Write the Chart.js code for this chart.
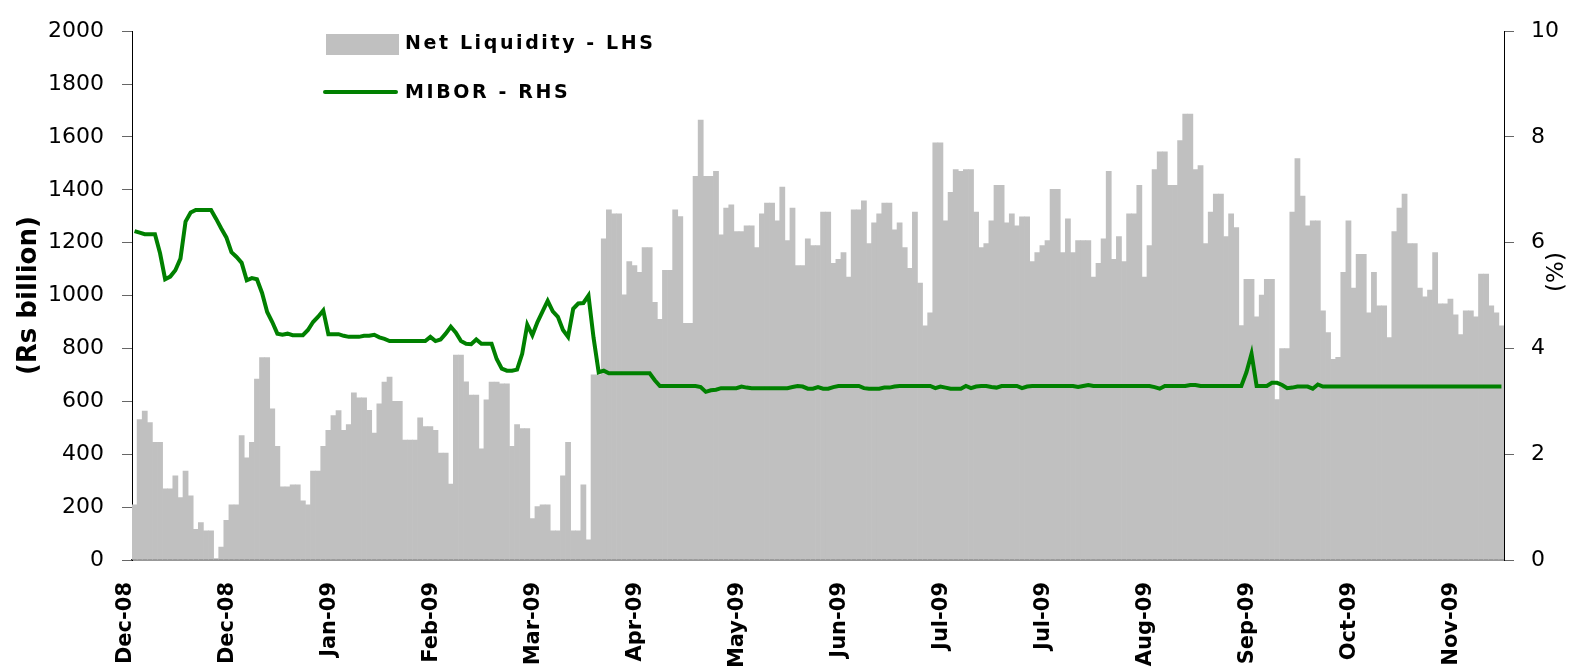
<!DOCTYPE html>
<html>
<head>
<meta charset="utf-8">
<script src="https://cdn.jsdelivr.net/npm/chart.js@4/dist/chart.umd.min.js"></script>
<style>
  body { margin: 0; background: #fff; }
  #wrap { position: relative; width: 1579px; height: 668px; }
  .legend { position: absolute; font-family: "DejaVu Sans", sans-serif; font-size: 19px; font-weight: bold; letter-spacing: 2.6px; color: #000; line-height: 20px; white-space: nowrap; }
  .swatch-bar { position: absolute; left: 326px; top: 34px; width: 73px; height: 21px; background: #c0c0c0; }
  .swatch-line { position: absolute; left: 323px; top: 90px; width: 75px; height: 4px; background: #008000; border-radius: 2px; }
</style>
</head>
<body>
<div id="wrap">
  <canvas id="chart" width="1579" height="668"></canvas>
  <div class="swatch-bar"></div>
  <div class="legend" style="left:405px; top:32px;">Net Liquidity - LHS</div>
  <div class="swatch-line"></div>
  <div class="legend" style="left:405px; top:81px;">MIBOR - RHS</div>
</div>
<script>
// x axis labels, one every 20 business days
const tickLabels = ['Dec-08', 'Dec-08', 'Jan-09', 'Feb-09', 'Mar-09', 'Apr-09', 'May-09',
  'Jun-09', 'Jul-09', 'Jul-09', 'Aug-09', 'Sep-09', 'Oct-09', 'Nov-09'];
const labelEvery = 20;

// Net liquidity, Rs billion (LHS)
const netLiquidity = [
  209, 531, 563, 520, 445, 445, 269, 269, 318, 236,
  336, 243, 116, 142, 110, 110, 5, 49, 150, 209,
  209, 471, 386, 445, 684, 766, 766, 572, 430, 277,
  277, 284, 284, 224, 209, 336, 336, 430, 490, 546,
  565, 490, 512, 632, 613, 613, 566, 480, 591, 673,
  692, 600, 600, 454, 454, 454, 538, 505, 505, 490,
  404, 404, 287, 775, 775, 674, 624, 624, 420, 606,
  673, 673, 666, 666, 430, 512, 497, 497, 157, 202,
  209, 209, 110, 110, 318, 445, 110, 110, 284, 76,
  700, 700, 1215, 1324, 1309, 1309, 1003, 1129, 1114, 1088,
  1182, 1182, 975, 910, 1096, 1096, 1324, 1299, 895, 895,
  1451, 1664, 1451, 1451, 1470, 1230, 1331, 1343, 1242, 1242,
  1264, 1264, 1182, 1309, 1350, 1350, 1283, 1410, 1208, 1331,
  1114, 1114, 1215, 1189, 1189, 1316, 1316, 1122, 1137, 1163,
  1070, 1324, 1324, 1358, 1197, 1275, 1309, 1350, 1350, 1249,
  1275, 1182, 1103, 1316, 1047, 886, 935, 1578, 1578, 1283,
  1391, 1477, 1470, 1477, 1477, 1316, 1182, 1197, 1283, 1417,
  1417, 1275, 1309, 1264, 1298, 1298, 1129, 1163, 1189, 1208,
  1402, 1402, 1163, 1290, 1163, 1208, 1208, 1208, 1070, 1122,
  1215, 1470, 1137, 1223, 1129, 1309, 1309, 1417, 1070, 1189,
  1477, 1544, 1544, 1417, 1417, 1586, 1687, 1687, 1477, 1492,
  1197, 1316, 1384, 1384, 1223, 1309, 1257, 887, 1062, 1062,
  920, 1002, 1062, 1062, 607, 800, 800, 1316, 1518, 1376,
  1264, 1283, 1283, 942, 860, 759, 767, 1088, 1283, 1028,
  1156, 1156, 935, 1088, 961, 961, 841, 1242, 1331, 1384,
  1197, 1197, 1028, 995, 1021, 1163, 969, 969, 987, 927,
  853, 942, 942, 920, 1081, 1081, 961, 935, 886
];

// MIBOR, % (RHS)
const mibor = [
  6.22, 6.19, 6.16, 6.16, 6.16, 5.8, 5.31, 5.36, 5.48, 5.7,
  6.4, 6.57, 6.62, 6.62, 6.62, 6.62, 6.45, 6.27, 6.1, 5.82,
  5.73, 5.62, 5.29, 5.33, 5.31, 5.05, 4.69, 4.5, 4.28, 4.26,
  4.28, 4.25, 4.25, 4.25, 4.35, 4.5, 4.6, 4.72, 4.27, 4.27,
  4.27, 4.24, 4.22, 4.22, 4.22, 4.24, 4.24, 4.26, 4.21, 4.18,
  4.14, 4.14, 4.14, 4.14, 4.14, 4.14, 4.14, 4.14, 4.22, 4.14,
  4.17, 4.28, 4.41, 4.3, 4.14, 4.09, 4.08, 4.17, 4.09, 4.09,
  4.09, 3.8, 3.62, 3.58, 3.58, 3.6, 3.9, 4.45, 4.25, 4.5,
  4.7, 4.9, 4.7, 4.6, 4.35, 4.22, 4.75, 4.85, 4.86, 5.0,
  4.2, 3.55, 3.58, 3.53, 3.53, 3.53, 3.53, 3.53, 3.53, 3.53,
  3.53, 3.53, 3.4, 3.29, 3.29, 3.29, 3.29, 3.29, 3.29, 3.29,
  3.29, 3.27, 3.18, 3.21, 3.22, 3.25, 3.25, 3.25, 3.25, 3.28,
  3.26, 3.25, 3.25, 3.25, 3.25, 3.25, 3.25, 3.25, 3.25, 3.27,
  3.29, 3.28, 3.24, 3.24, 3.27, 3.24, 3.24, 3.27, 3.29, 3.29,
  3.29, 3.29, 3.29, 3.25, 3.24, 3.24, 3.24, 3.26, 3.26, 3.28,
  3.29, 3.29, 3.29, 3.29, 3.29, 3.29, 3.29, 3.25, 3.28, 3.26,
  3.24, 3.24, 3.24, 3.29, 3.25, 3.28, 3.29, 3.29, 3.27, 3.26,
  3.29, 3.29, 3.29, 3.29, 3.25, 3.28, 3.29, 3.29, 3.29, 3.29,
  3.29, 3.29, 3.29, 3.29, 3.29, 3.27, 3.29, 3.31, 3.29, 3.29,
  3.29, 3.29, 3.29, 3.29, 3.29, 3.29, 3.29, 3.29, 3.29, 3.29,
  3.27, 3.24, 3.29, 3.29, 3.29, 3.29, 3.29, 3.31, 3.31, 3.29,
  3.29, 3.29, 3.29, 3.29, 3.29, 3.29, 3.29, 3.29, 3.55, 3.9,
  3.29, 3.29, 3.29, 3.35, 3.35, 3.31, 3.25, 3.26, 3.28, 3.28,
  3.28, 3.24, 3.32, 3.28, 3.28, 3.28, 3.28, 3.28, 3.28, 3.28,
  3.28, 3.28, 3.28, 3.28, 3.28, 3.28, 3.28, 3.28, 3.28, 3.28,
  3.28, 3.28, 3.28, 3.28, 3.28, 3.28, 3.28, 3.28, 3.28, 3.28,
  3.28, 3.28, 3.28, 3.28, 3.28, 3.28, 3.28, 3.28, 3.28
];

const categories = netLiquidity.map((v, i) => i % labelEvery === 0 ? tickLabels[i / labelEvery] : '');

const tickFont = { family: 'DejaVu Sans', size: 22 };

// right axis title reads bottom-to-top like the left one
const rightTitle = {
  id: 'rightTitle',
  afterDraw(chart) {
    const ctx = chart.ctx;
    const s = chart.scales.y1;
    ctx.save();
    ctx.translate(s.right - 22, 272);
    ctx.rotate(-Math.PI / 2);
    ctx.font = '23px "DejaVu Sans"';
    ctx.fillStyle = '#000';
    ctx.textAlign = 'center';
    ctx.textBaseline = 'middle';
    ctx.fillText('(%)', 0, 0);
    ctx.restore();
  }
};

new Chart(document.getElementById('chart'), {
  type: 'bar',
  data: {
    labels: categories,
    datasets: [
      {
        type: 'line',
        label: 'MIBOR - RHS',
        data: mibor,
        yAxisID: 'y1',
        borderColor: '#008000',
        borderWidth: 4,
        pointRadius: 0,
        tension: 0,
        order: 0
      },
      {
        label: 'Net Liquidity - LHS',
        data: netLiquidity,
        yAxisID: 'y',
        backgroundColor: '#c0c0c0',
        borderWidth: 0,
        barPercentage: 1,
        categoryPercentage: 1,
        order: 1
      }
    ]
  },
  options: {
    responsive: false,
    animation: false,
    layout: { padding: { top: 25, left: 0, right: 0, bottom: 0 } },
    plugins: {
      legend: { display: false },
      tooltip: { enabled: false }
    },
    scales: {
      x: {
        grid: { display: false, drawTicks: false },
        border: { display: true, color: '#333', width: 1.5 },
        ticks: {
          autoSkip: false,
          maxRotation: 90,
          minRotation: 90,
          padding: 22,
          labelOffset: -9,
          color: '#000',
          font: { family: 'DejaVu Sans', size: 21, weight: 'bold' }
        },
        afterFit: s => { s.height = 108; }
      },
      y: {
        position: 'left',
        min: 0,
        max: 2000,
        ticks: { stepSize: 200, padding: 18, color: '#000', font: tickFont, callback: v => String(v) },
        grid: { drawOnChartArea: false, tickLength: 10, color: '#666' },
        border: { display: true, color: '#000' },
        title: {
          display: true,
          text: '(Rs billion)',
          color: '#000',
          font: { family: 'DejaVu Sans', size: 26, weight: 'bold' },
          padding: { top: 14, bottom: 0 }
        },
        afterFit: s => { s.width = 132; }
      },
      y1: {
        position: 'right',
        min: 0,
        max: 10,
        ticks: { stepSize: 2, padding: 17, color: '#000', font: tickFont },
        grid: { drawOnChartArea: false, tickLength: 10, color: '#666' },
        border: { display: true, color: '#000' },
        afterFit: s => { s.width = 75; }
      }
    }
  },
  plugins: [rightTitle]
});
</script>
</body>
</html>
